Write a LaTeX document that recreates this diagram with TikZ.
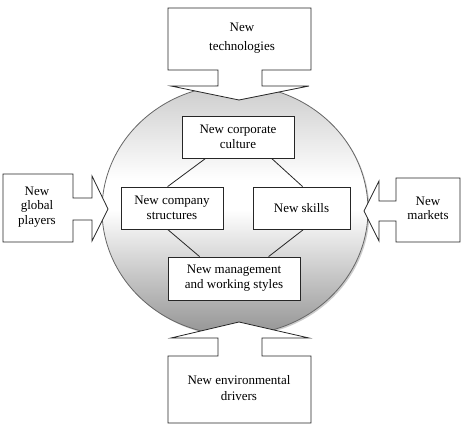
\documentclass[tikz,border=0pt]{standalone}
\usepackage{fontspec}
\setmainfont{Liberation Serif}
\usetikzlibrary{calc}
\pgfdeclareverticalshading{sphere}{100bp}{color(0bp)=(black!42); color(25bp)=(black!42);
  color(50bp)=(white); color(56bp)=(white); color(75bp)=(black!20); color(100bp)=(black!20)}
\begin{document}
\begin{tikzpicture}[x=1pt,y=-1pt,
  callout/.style={draw=black!85,line width=0.8pt,fill=white,line join=miter},
  inbox/.style={draw=black!85,line width=0.8pt,fill=white,inner sep=0pt,align=center,
     font=\fontsize{13}{15}\selectfont},
  txt/.style={align=center,inner sep=0pt,font=\fontsize{13}{15}\selectfont},
  link/.style={draw=black!85,line width=0.8pt}]
\useasboundingbox (0,0) rectangle (465,441);
% shadow and sphere
\fill[gray!40] (236.5,211.5) ellipse [x radius=133, y radius=125];
\shade[shading=sphere, draw=black!60, line width=0.8pt]
  (235,210) ellipse [x radius=133, y radius=125];
% callouts
\path[callout] (168,8) -- (311,8) -- (311,70) -- (262,70) -- (262,86) -- (309,86) -- (239,100)
  -- (171,86) -- (218,86) -- (218,70) -- (168,70) -- cycle;
\path[callout] (168,423) -- (311,423) -- (311,356) -- (262,356) -- (262,338) -- (309,338) -- (239,322)
  -- (171,338) -- (218,338) -- (218,356) -- (168,356) -- cycle;
\path[callout] (3,174) -- (73,174) -- (73,198) -- (92,198) -- (92,176) -- (108,209) -- (92,241)
  -- (92,220) -- (73,220) -- (73,242) -- (3,242) -- cycle;
\path[callout] (460,178) -- (396,178) -- (396,201) -- (379,201) -- (379,181) -- (364,211) -- (379,241)
  -- (379,221) -- (396,221) -- (396,242) -- (460,242) -- cycle;
\node[txt,font=\fontsize{13}{19}\selectfont] (tech) at (242,38) {New\\technologies};
\node[txt,font=\fontsize{13}{15.5}\selectfont] (env) at (239,388) {New environmental\\drivers};
\node[txt,font=\fontsize{13}{14.5}\selectfont] (glob) at (37,207) {New\\global\\players};
\node[txt,font=\fontsize{13}{14.5}\selectfont] (mark) at (428,208.5) {New\\markets};
% inner boxes
\node[inbox,minimum width=112pt,minimum height=42pt] (cult) at (238,137) {New corporate\\culture};
\node[inbox,minimum width=102pt,minimum height=42pt] (struc) at (172,208) {New company\\structures};
\node[inbox,minimum width=97pt,minimum height=42pt] (skill) at (301.5,208) {New skills};
\node[inbox,minimum width=132pt,minimum height=43pt] (mgmt) at (234,278.5) {New management\\and working styles};
% links
\draw[link] ($(cult.south west)+(24,0)$) -- ($(struc.north west)+(47,0)$);
\draw[link] ($(cult.south west)+(90,0)$) -- ($(skill.north west)+(50,0)$);
\draw[link] ($(struc.south west)+(47,0)$) -- ($(mgmt.north west)+(32,0)$);
\draw[link] ($(skill.south west)+(51,0)$) -- ($(mgmt.north west)+(101,0)$);
\end{tikzpicture}
\end{document}
